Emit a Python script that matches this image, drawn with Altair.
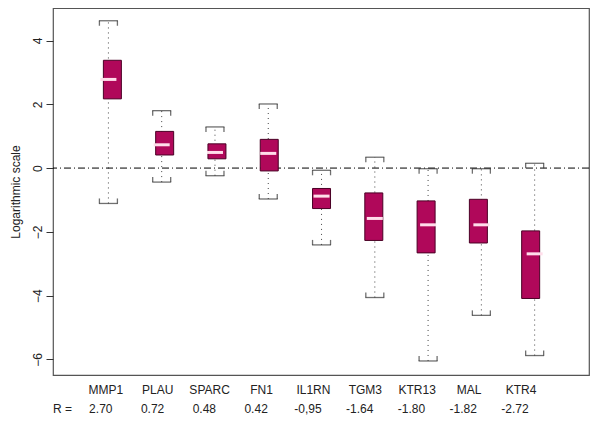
import altair as alt
import pandas as pd

genes = ["MMP1", "PLAU", "SPARC", "FN1", "IL1RN", "TGM3", "KTR13", "MAL", "KTR4"]
r_labels = ["2.70", "0.72", "0.48", "0.42", "-0,95", "-1.64", "-1.80", "-1.82", "-2.72"]
whisker_hi = [4.62, 1.80, 1.29, 2.01, -0.07, 0.34, -0.02, -0.02, 0.15]
box_hi = [3.38, 1.15, 0.76, 0.90, -0.64, -0.78, -1.03, -0.98, -1.97]
medians = [2.78, 0.73, 0.49, 0.46, -0.88, -1.58, -1.78, -1.78, -2.69]
box_lo = [2.17, 0.41, 0.29, -0.09, -1.27, -2.27, -2.66, -2.35, -4.09]
whisker_lo = [-1.11, -0.44, -0.24, -0.97, -2.41, -4.06, -6.05, -4.62, -5.88]
y_ticks = [-6, -4, -2, 0, 2, 4]

df = pd.DataFrame({
    "pos": list(range(1, len(genes) + 1)),
    "gene": genes,
    "r": r_labels,
    "whi": whisker_hi,
    "q3": box_hi,
    "med": medians,
    "q1": box_lo,
    "wlo": whisker_lo,
})

FONT = "Liberation Sans"
TXT = "#222222"
BOX_FILL = "#B0085A"
BOX_EDGE = "#4A0025"
MED = "#FFDDEA"
DARK = "#333333"

xs = alt.Scale(domain=[-0.04, 10.02], nice=False, zero=False)
ys = alt.Scale(domain=[-6.49, 5.02], nice=False, zero=False)
yaxis = alt.Axis(
    values=y_ticks, title="Logarithmic scale", grid=False, domain=False,
    tickSize=7, tickColor=DARK, labelAngle=270, labelAlign="center",
    labelBaseline="bottom", labelPadding=2, labelFont=FONT, labelFontSize=12,
    labelColor=TXT, titleFont=FONT, titleFontSize=12, titleFontWeight="normal",
    titleColor=TXT, titleAngle=270, titleAlign="center", titleBaseline="middle",
    titleX=-38, titleY=183.5,
)

def X():
    return alt.X("pos:Q", scale=xs, axis=None)

def Y(field):
    return alt.Y(f"{field}:Q", scale=ys, axis=yaxis)

base = alt.Chart(df)

whisk = base.mark_rule(color="#444444", strokeDash=[1, 4], strokeWidth=1).encode(
    x=X(), y=Y("wlo"), y2="whi:Q")

zero = alt.Chart(pd.DataFrame({"v": [0]})).mark_rule(
    color="black", strokeDash=[7, 3, 1, 3], strokeWidth=1).encode(y=Y("v"))

cap_top = base.mark_tick(orient="horizontal", size=19, thickness=1.3, color=DARK).encode(
    x=X(), y=Y("whi"))
cap_top_l = base.mark_tick(orient="vertical", size=5, thickness=1.3, color=DARK,
                           xOffset=-9, yOffset=2.5).encode(x=X(), y=Y("whi"))
cap_top_r = base.mark_tick(orient="vertical", size=5, thickness=1.3, color=DARK,
                           xOffset=9, yOffset=2.5).encode(x=X(), y=Y("whi"))
cap_bot = base.mark_tick(orient="horizontal", size=19, thickness=1.3, color=DARK).encode(
    x=X(), y=Y("wlo"))
cap_bot_l = base.mark_tick(orient="vertical", size=5, thickness=1.3, color=DARK,
                           xOffset=-9, yOffset=-2.5).encode(x=X(), y=Y("wlo"))
cap_bot_r = base.mark_tick(orient="vertical", size=5, thickness=1.3, color=DARK,
                           xOffset=9, yOffset=-2.5).encode(x=X(), y=Y("wlo"))

boxes = base.mark_bar(size=18, fill=BOX_FILL, stroke=BOX_EDGE, strokeWidth=1).encode(
    x=X(), y=Y("q1"), y2="q3:Q")

med = base.mark_tick(orient="horizontal", size=16, thickness=3, color=MED, opacity=1).encode(
    x=X(), y=Y("med"))

gene_txt = base.mark_text(font=FONT, fontSize=12, color=TXT, baseline="middle").encode(
    x=alt.X("pos:Q", scale=alt.Scale(domain=[-0.017, 10.31], nice=False, zero=False), axis=None),
    y=alt.value(381.5), text="gene:N")

r_txt = base.mark_text(font=FONT, fontSize=12, color=TXT, baseline="middle").encode(
    x=alt.X("pos:Q", scale=alt.Scale(domain=[0.077, 10.429], nice=False, zero=False), axis=None),
    y=alt.value(401), text="r:N")

r_head = alt.Chart(pd.DataFrame({"t": ["R ="]})).mark_text(
    font=FONT, fontSize=12, color=TXT, baseline="middle", align="left").encode(
    x=alt.value(0), y=alt.value(401), text="t:N")

chart = alt.layer(
    whisk, zero, cap_top, cap_top_l, cap_top_r, cap_bot, cap_bot_l, cap_bot_r,
    boxes, med, gene_txt, r_txt, r_head,
).resolve_scale(x="independent").properties(
    width=536, height=367,
    padding={"left": 45, "top": 0, "right": 3, "bottom": 44},
    autosize=alt.AutoSizeParams(type="none"),
    background="white",
).configure_view(stroke="#555555", strokeWidth=1.2)

chart.save("out.html", embed_options={"renderer": "svg", "actions": False})
